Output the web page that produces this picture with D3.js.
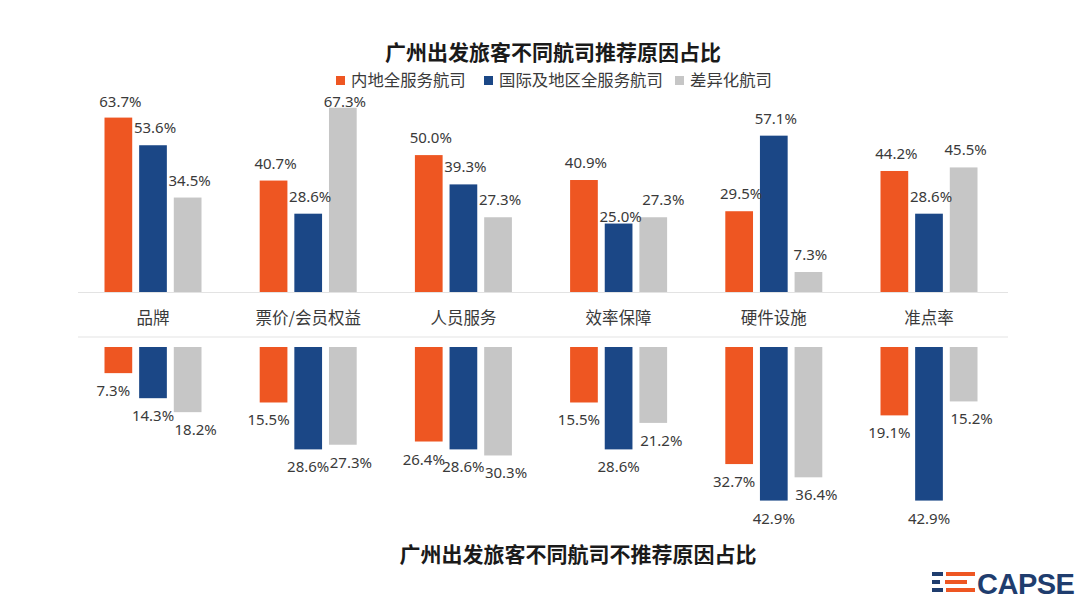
<!DOCTYPE html>
<html>
<head>
<meta charset="utf-8">
<script src="https://cdn.jsdelivr.net/npm/d3@7"></script>
<style>
  body { margin: 0; background: #fff; }
  svg { display: block; }
</style>
</head>
<body>
<script>
var width = 1080, height = 607;

// chart data
var categories = ['品牌', '票价/会员权益', '人员服务', '效率保障', '硬件设施', '准点率'];
var seriesNames = ['内地全服务航司', '国际及地区全服务航司', '差异化航司'];
var seriesColors = ['#EE5622', '#1B4786', '#C6C6C6'];

// recommend reasons (top)
var recDomestic = [63.7, 40.7, 50.0, 40.9, 29.5, 44.2];
var recIntl     = [53.6, 28.6, 39.3, 25.0, 57.1, 28.6];
var recLowCost  = [34.5, 67.3, 27.3, 27.3, 7.3, 45.5];

// not-recommend reasons (bottom)
var notDomestic = [7.3, 15.5, 26.4, 15.5, 32.7, 19.1];
var notIntl     = [14.3, 28.6, 28.6, 28.6, 42.9, 42.9];
var notLowCost  = [18.2, 27.3, 30.3, 21.2, 36.4, 15.2];

var topTitle = '广州出发旅客不同航司推荐原因占比';
var bottomTitle = '广州出发旅客不同航司不推荐原因占比';

var cjk = '"Noto Sans CJK SC", "Noto Sans", sans-serif';
var num = '"Noto Sans", "Open Sans", sans-serif';
var textColor = '#3a3a3a';

var svg = d3.select('body').append('svg')
  .attr('width', width)
  .attr('height', height);

// scales
var x0 = d3.scaleBand().domain(categories).range([75.4, 1006.6]);
var x1 = d3.scaleBand().domain(d3.range(3)).range([-48.5, 48.5]).paddingInner(0.2);
var yTop = d3.scaleLinear().domain([0, 100]).range([292, 292 - 273.8]);
var yBot = d3.scaleLinear().domain([0, 100]).range([347, 347 + 358]);

function rows(a, b, c) {
  var out = [];
  categories.forEach(function(cat, i) {
    [a, b, c].forEach(function(s, k) {
      out.push({ cat: cat, k: k, v: s[i] });
    });
  });
  return out;
}
var topData = rows(recDomestic, recIntl, recLowCost);
var botData = rows(notDomestic, notIntl, notLowCost);

function barX(d) { return x0(d.cat) + x0.bandwidth() / 2 + x1(d.k); }
function barMid(d) { return barX(d) + x1.bandwidth() / 2; }

// top label placement: above the bar, clamped under the legend;
// when two neighbours collide, drop the lower one onto its bar and nudge the right one
topData.forEach(function(d) {
  d.lx = barMid(d) + 2;
  d.ly = Math.max(yTop(d.v) - 12, 107);
});
for (var i = 1; i < topData.length; i++) {
  var a = topData[i - 1], b = topData[i];
  if (a.cat !== b.cat) continue;
  if (Math.abs(a.ly - b.ly) < 14 && b.lx - a.lx < 44) {
    var low = a.v < b.v ? a : b;
    low.ly = yTop(low.v) - 2;
    b.lx += 8;
  }
}

// separator lines
svg.append('line')
  .attr('x1', 78).attr('x2', 1008)
  .attr('y1', 292.5).attr('y2', 292.5)
  .attr('stroke', '#e3e3e3').attr('stroke-width', 1);
svg.append('line')
  .attr('x1', 78).attr('x2', 1008)
  .attr('y1', 337).attr('y2', 337)
  .attr('stroke', '#e3e3e3').attr('stroke-width', 1);

// top bars
svg.append('g').selectAll('rect')
  .data(topData)
  .enter().append('rect')
  .attr('x', barX)
  .attr('y', function(d) { return yTop(d.v); })
  .attr('width', x1.bandwidth())
  .attr('height', function(d) { return yTop(0) - yTop(d.v); })
  .attr('fill', function(d) { return seriesColors[d.k]; });

svg.append('g').selectAll('text')
  .data(topData)
  .enter().append('text')
  .attr('x', function(d) { return d.lx; })
  .attr('y', function(d) { return d.ly; })
  .attr('text-anchor', 'middle')
  .style('font-family', num)
  .style('font-size', '15px')
  .style('fill', textColor)
  .text(function(d) { return d.v.toFixed(1) + '%'; });

// bottom bars (hanging down)
var botShift = [-5, 0, 8];
svg.append('g').selectAll('rect')
  .data(botData)
  .enter().append('rect')
  .attr('x', barX)
  .attr('y', yBot(0))
  .attr('width', x1.bandwidth())
  .attr('height', function(d) { return yBot(d.v) - yBot(0); })
  .attr('fill', function(d) { return seriesColors[d.k]; });

svg.append('g').selectAll('text')
  .data(botData)
  .enter().append('text')
  .attr('x', function(d) { return barMid(d) + botShift[d.k]; })
  .attr('y', function(d) { return yBot(d.v) + 23; })
  .attr('text-anchor', 'middle')
  .style('font-family', num)
  .style('font-size', '15px')
  .style('fill', textColor)
  .text(function(d) { return d.v.toFixed(1) + '%'; });

// category labels between the two charts
svg.append('g').selectAll('text')
  .data(categories)
  .enter().append('text')
  .attr('x', function(d) { return x0(d) + x0.bandwidth() / 2; })
  .attr('y', 324)
  .attr('text-anchor', 'middle')
  .style('font-family', cjk)
  .style('font-size', '16.5px')
  .style('fill', textColor)
  .text(function(d) { return d; });

// titles
svg.append('text')
  .attr('x', 553).attr('y', 60)
  .attr('text-anchor', 'middle')
  .style('font-family', cjk)
  .style('font-weight', 'bold')
  .style('font-size', '21px')
  .style('fill', '#1a1a1a')
  .text(topTitle);

svg.append('text')
  .attr('x', 578).attr('y', 562)
  .attr('text-anchor', 'middle')
  .style('font-family', cjk)
  .style('font-weight', 'bold')
  .style('font-size', '21px')
  .style('fill', '#1a1a1a')
  .text(bottomTitle);

// legend
var legendX = [336, 484, 675];
var legend = svg.append('g').selectAll('g')
  .data(seriesNames)
  .enter().append('g')
  .attr('transform', function(d, i) { return 'translate(' + legendX[i] + ',75)'; });
legend.append('rect')
  .attr('width', 9).attr('height', 9)
  .attr('y', 1)
  .attr('fill', function(d, i) { return seriesColors[i]; });
legend.append('text')
  .attr('x', 15).attr('y', 10.5)
  .style('font-family', cjk)
  .style('font-size', '16.4px')
  .style('fill', textColor)
  .text(function(d) { return d; });

// CAPSE logo, bottom right
var logo = svg.append('g').attr('transform', 'translate(932,572)');
var stripes = [
  { y: 0, navy: [0, 11], orange: [14, 43] },
  { y: 8, navy: [0, 8], orange: [13, 35] },
  { y: 16, navy: [0, 11], orange: [14, 43] }
];
stripes.forEach(function(s) {
  logo.append('rect').attr('x', s.navy[0]).attr('y', s.y)
    .attr('width', s.navy[1] - s.navy[0]).attr('height', 4).attr('fill', '#1F3D6E');
  logo.append('rect').attr('x', s.orange[0]).attr('y', s.y)
    .attr('width', s.orange[1] - s.orange[0]).attr('height', 4).attr('fill', '#EE5622');
});
logo.append('text')
  .attr('x', 45).attr('y', 22)
  .style('font-family', '"Liberation Sans", Arial, sans-serif')
  .style('font-weight', 'bold')
  .style('font-size', '29px')
  .style('letter-spacing', '-0.5px')
  .style('fill', '#1F3D6E')
  .text('CAPSE');
</script>
</body>
</html>
